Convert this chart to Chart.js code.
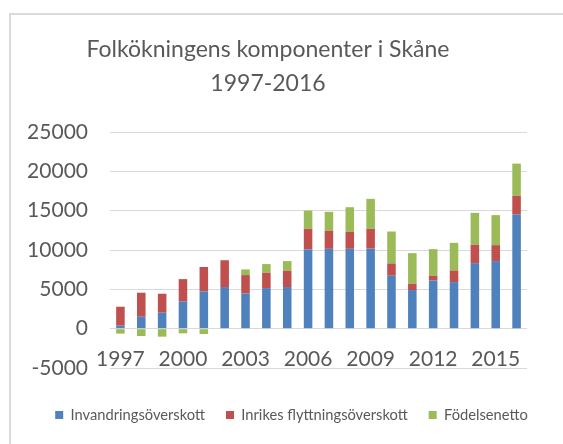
<!DOCTYPE html>
<html>
<head>
<meta charset="utf-8">
<script src="https://cdn.jsdelivr.net/npm/chart.js@4"></script>
<style>
  html, body { margin: 0; padding: 0; background: #fff; overflow: hidden; }
  #frame { position: absolute; left: 9px; top: 13px; width: 600px; height: 500px; border-left: 2px solid #d9d9d9; border-top: 2px solid #d9d9d9; }
  #wrap { position: absolute; left: 0; top: 0; width: 563px; height: 444px; }
</style>
</head>
<body>
<div id="frame"></div>
<div id="wrap"><canvas id="c" width="563" height="444"></canvas></div>
<script>
const years = ['1997','1998','1999','2000','2001','2002','2003','2004','2005','2006','2007','2008','2009','2010','2011','2012','2013','2014','2015','2016'];
const xTickLabels = ['1997','2000','2003','2006','2009','2012','2015'];
const invandring = [380, 1520, 2030, 3470, 4740, 5290, 4480, 5160, 5290, 10070, 10150, 10150, 10190, 6730, 4910, 6130, 5920, 8330, 8590, 14510];
const inrikes = [2410, 3050, 2410, 2830, 3100, 3400, 2330, 1950, 2070, 2620, 2290, 2160, 2500, 1560, 800, 600, 1480, 2330, 2030, 2370];
const fodelse = [-630, -930, -1015, -590, -680, 50, 720, 1100, 1230, 2330, 2410, 3130, 3810, 4060, 3890, 3380, 3510, 4060, 3810, 4100];
const seriesNames = ['Invandringsöverskott', 'Inrikes flyttningsöverskott', 'Födelsenetto'];
const yTicks = { min: -5000, max: 25000, step: 5000 };

const textColor = '#595959';
const fontFam = 'Lato, "Open Sans", sans-serif';

const shiftBoxes = {
  id: 'shiftBoxes',
  afterLayout(chart) {
    const lg = chart.legend;
    if (lg) { lg.left += 28; lg.right += 28; }
    const tt = chart.titleBlock;
    if (tt) { tt.left += 4.5; tt.right += 4.5; }
  }
};

new Chart(document.getElementById('c'), {
  type: 'bar',
  data: {
    labels: years,
    datasets: [
      { label: seriesNames[0], data: invandring, backgroundColor: '#4f81bd' },
      { label: seriesNames[1], data: inrikes, backgroundColor: '#c0504d' },
      { label: seriesNames[2], data: fodelse, backgroundColor: '#9bbb59' }
    ]
  },
  options: {
    responsive: false,
    animation: false,
    devicePixelRatio: 1,
    barPercentage: 0.41,
    categoryPercentage: 1,
    layout: { padding: { left: 0, right: 36, top: 0, bottom: 11.6 } },
    plugins: {
      title: {
        display: true,
        text: ['Folkökningens komponenter i Skåne', '1997-2016'],
        color: textColor,
        font: { family: fontFam, size: 23, weight: 'normal', lineHeight: 34 / 23 },
        padding: { top: 33, bottom: 31 }
      },
      legend: {
        position: 'bottom',
        title: { display: true, text: '', font: { size: 10, lineHeight: 1 }, padding: { top: 8.7, bottom: 0 } },
        labels: {
          color: textColor,
          font: { family: fontFam, size: 14.7 },
          boxWidth: 8,
          boxHeight: 8,
          padding: 21
        }
      },
      tooltip: { enabled: false }
    },
    scales: {
      x: {
        stacked: true,
        position: { y: 0 },
        grid: { display: false, drawTicks: false },
        border: { display: false },
        ticks: {
          autoSkip: false,
          maxRotation: 0,
          padding: 17.6,
          color: textColor,
          font: { family: fontFam, size: 21 },
          callback: function (v, i) { const l = years[i]; return xTickLabels.includes(l) ? l : ''; }
        }
      },
      y: {
        stacked: true,
        min: yTicks.min,
        max: yTicks.max,
        afterFit(s) { s.width = 110; },
        grid: { color: '#d9d9d9', lineWidth: 1, drawTicks: false },
        border: { display: false },
        ticks: {
          stepSize: yTicks.step,
          padding: 22,
          color: textColor,
          font: { family: fontFam, size: 21 },
          callback: (v) => String(v)
        }
      }
    }
  },
  plugins: [shiftBoxes]
});
</script>
</body>
</html>
